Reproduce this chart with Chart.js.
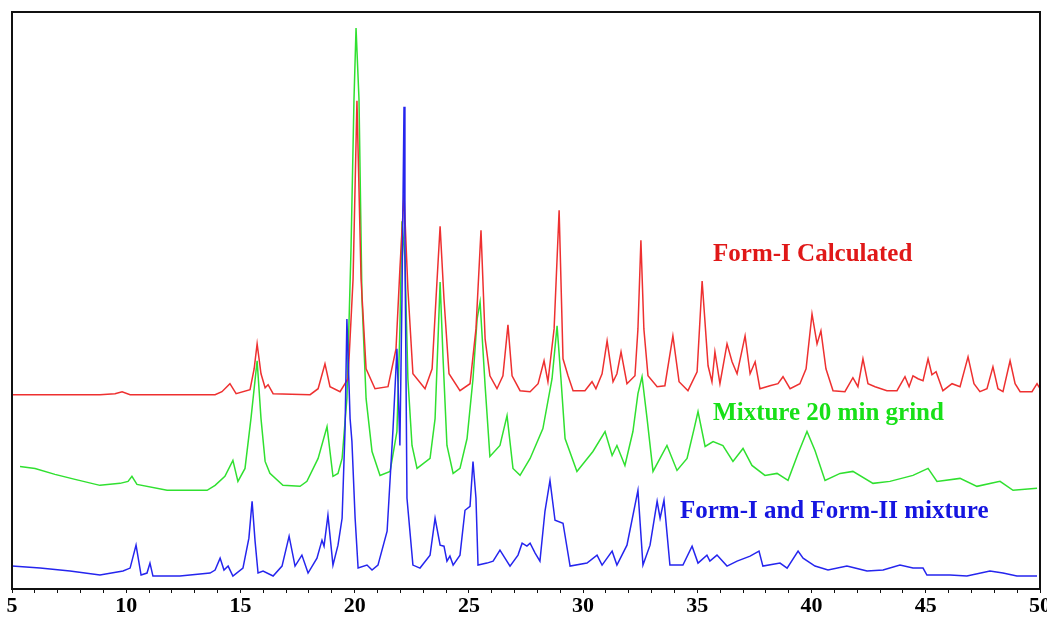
<!DOCTYPE html>
<html>
<head>
<meta charset="utf-8">
<script src="https://cdn.jsdelivr.net/npm/chart.js@4/dist/chart.umd.min.js"></script>
<style>
  html, body { margin: 0; padding: 0; background: #fff; }
  #wrap { width: 1047px; height: 620px; }
</style>
</head>
<body>
<div id="wrap"><canvas id="xrdChart" width="1047" height="620"></canvas></div>
<script>
// 2-theta positions and intensities (arbitrary units, offsets included)
const calcX = [5.00, 8.85, 9.51, 9.82, 10.17, 13.89, 14.19, 14.54, 14.81, 15.42, 15.60, 15.73, 15.90, 16.08, 16.21, 16.43, 18.05, 18.40, 18.70, 18.92, 19.36, 19.71, 19.93, 20.10, 20.28, 20.50, 20.89, 21.46, 21.81, 21.98, 22.16, 22.33, 22.55, 23.08, 23.39, 23.56, 23.74, 23.91, 24.13, 24.61, 25.05, 25.31, 25.53, 25.71, 25.92, 26.23, 26.49, 26.71, 26.89, 27.24, 27.68, 28.03, 28.29, 28.46, 28.73, 28.95, 29.12, 29.34, 29.56, 30.08, 30.39, 30.56, 30.83, 31.05, 31.31, 31.48, 31.66, 31.92, 32.27, 32.40, 32.53, 32.66, 32.84, 33.24, 33.58, 33.93, 34.20, 34.59, 34.99, 35.21, 35.47, 35.64, 35.77, 35.99, 36.30, 36.52, 36.74, 37.09, 37.31, 37.53, 37.74, 38.18, 38.53, 38.75, 39.06, 39.49, 39.76, 40.02, 40.24, 40.41, 40.63, 40.94, 41.46, 41.81, 42.03, 42.25, 42.47, 42.78, 43.30, 43.74, 44.09, 44.27, 44.44, 44.66, 44.88, 45.10, 45.27, 45.45, 45.75, 46.15, 46.50, 46.85, 47.11, 47.37, 47.68, 47.94, 48.16, 48.38, 48.69, 48.91, 49.13, 49.65, 49.87, 50.00];
const calcY = [195, 195, 196, 198, 195, 195, 198, 206, 196, 200, 221, 246, 216, 202, 205, 196, 195, 201, 226, 203, 198, 211, 311, 490, 311, 221, 201, 203, 241, 321, 396, 301, 216, 201, 221, 291, 364, 291, 216, 199, 206, 261, 360, 251, 214, 201, 214, 265, 214, 199, 198, 206, 229, 208, 261, 380, 231, 214, 199, 199, 208, 201, 216, 249, 208, 216, 238, 206, 214, 261, 350, 261, 214, 203, 204, 254, 208, 199, 218, 309, 224, 208, 238, 206, 246, 228, 216, 254, 216, 228, 201, 204, 206, 213, 201, 206, 221, 276, 246, 259, 221, 199, 198, 212, 203, 231, 206, 203, 199, 199, 213, 203, 214, 211, 209, 231, 215, 218, 199, 206, 203, 233, 206, 198, 201, 223, 201, 198, 229, 206, 198, 198, 206, 201];

const grindX = [5.35, 6.01, 6.88, 7.76, 8.85, 9.73, 10.08, 10.25, 10.47, 11.79, 13.54, 13.89, 14.32, 14.67, 14.89, 15.20, 15.46, 15.73, 15.90, 16.08, 16.29, 16.86, 17.61, 17.91, 18.40, 18.79, 19.05, 19.27, 19.45, 19.66, 19.84, 19.97, 20.06, 20.19, 20.32, 20.50, 20.76, 21.11, 21.55, 21.85, 21.98, 22.07, 22.20, 22.33, 22.51, 22.73, 23.30, 23.52, 23.65, 23.74, 23.87, 24.04, 24.31, 24.61, 24.92, 25.18, 25.36, 25.49, 25.71, 25.92, 26.36, 26.67, 26.93, 27.24, 27.68, 28.24, 28.64, 28.86, 29.03, 29.21, 29.73, 30.43, 30.96, 31.27, 31.48, 31.83, 32.18, 32.40, 32.58, 32.80, 33.06, 33.67, 34.11, 34.55, 34.86, 35.03, 35.34, 35.69, 36.12, 36.56, 37.00, 37.39, 37.96, 38.49, 38.97, 39.41, 39.80, 40.15, 40.59, 41.25, 41.81, 42.69, 43.43, 44.44, 45.10, 45.49, 46.50, 47.24, 48.25, 48.82, 49.87];
const grindY = [123, 121, 115, 110, 104, 106, 108, 113, 105, 99, 99, 104, 113, 129, 108, 121, 171, 229, 171, 128, 116, 104, 103, 108, 131, 163, 113, 116, 131, 191, 341, 491, 563, 491, 291, 191, 138, 114, 118, 158, 261, 369, 331, 211, 144, 121, 131, 171, 251, 308, 231, 144, 116, 121, 151, 211, 271, 288, 204, 133, 144, 174, 121, 114, 131, 161, 211, 264, 211, 151, 118, 138, 158, 134, 144, 124, 158, 196, 213, 171, 118, 144, 119, 131, 161, 178, 143, 148, 144, 128, 141, 124, 114, 116, 109, 136, 158, 139, 109, 116, 118, 106, 108, 114, 121, 108, 111, 103, 108, 99, 101];

const mixX = [5.00, 6.23, 7.54, 8.85, 9.86, 10.17, 10.43, 10.65, 10.91, 11.04, 11.17, 12.35, 13.67, 13.89, 14.11, 14.28, 14.46, 14.67, 15.11, 15.37, 15.51, 15.64, 15.77, 15.99, 16.43, 16.82, 17.13, 17.39, 17.69, 17.96, 18.35, 18.57, 18.66, 18.83, 19.05, 19.27, 19.45, 19.58, 19.66, 19.80, 19.88, 20.02, 20.15, 20.54, 20.76, 21.02, 21.42, 21.68, 21.85, 21.98, 22.07, 22.16, 22.20, 22.29, 22.55, 22.86, 23.30, 23.52, 23.74, 23.91, 24.04, 24.17, 24.31, 24.61, 24.83, 25.05, 25.18, 25.31, 25.40, 25.79, 26.06, 26.36, 26.80, 27.15, 27.33, 27.54, 27.68, 27.90, 28.11, 28.33, 28.55, 28.77, 29.12, 29.43, 30.17, 30.61, 30.83, 31.27, 31.48, 31.92, 32.40, 32.62, 32.93, 33.24, 33.37, 33.54, 33.80, 34.37, 34.77, 35.03, 35.42, 35.55, 35.86, 36.30, 36.74, 37.31, 37.70, 37.87, 38.62, 38.93, 39.41, 39.63, 40.15, 40.72, 41.55, 42.43, 43.13, 43.87, 44.44, 44.88, 45.05, 46.06, 46.80, 47.81, 48.38, 48.99, 49.87];
const mixY = [23, 21, 18, 14, 18, 21, 44, 14, 16, 26, 13, 13, 16, 19, 31, 19, 23, 13, 21, 51, 88, 48, 16, 18, 13, 23, 53, 23, 34, 16, 31, 49, 43, 74, 24, 44, 71, 161, 271, 171, 148, 71, 21, 24, 19, 24, 58, 161, 241, 144, 291, 484, 351, 91, 24, 21, 34, 71, 44, 43, 28, 33, 24, 34, 79, 83, 128, 91, 24, 26, 28, 39, 23, 34, 46, 43, 46, 36, 28, 78, 109, 69, 66, 23, 26, 34, 24, 38, 24, 44, 99, 24, 44, 88, 71, 89, 24, 24, 43, 26, 34, 28, 34, 23, 28, 33, 38, 23, 26, 21, 38, 31, 23, 19, 23, 18, 19, 24, 21, 21, 14, 14, 13, 18, 16, 13, 13];

const xTicks = [5, 10, 15, 20, 25, 30, 35, 40, 45, 50];

const seriesNames = ['Form-I and Form-II mixture', 'Form-I Calculated', 'Mixture 20 min grind'];
const lineColors = ['#2525ee', '#ee3030', '#30e030'];
const textColors = ['#1515e0', '#e01818', '#18e018'];
// where each name sits, in data units: [2theta, intensity]
const namePos = [[34.24, 78], [35.69, 336], [35.69, 176]];

function toPoints(xs, ys) {
  return xs.map((x, i) => ({ x: x, y: ys[i] }));
}

// frame round the plot area + the series names
const framePlugin = {
  id: 'frame',
  afterDraw(chart) {
    const { ctx, chartArea: { top, bottom, left, right }, scales } = chart;
    ctx.save();
    ctx.strokeStyle = '#111';
    ctx.lineWidth = 2;
    ctx.strokeRect(left, top, right - left, bottom - top);

    ctx.font = 'bold 25px "Liberation Serif", "DejaVu Serif", serif';
    ctx.textBaseline = 'middle';
    ctx.textAlign = 'left';
    seriesNames.forEach((name, i) => {
      ctx.fillStyle = textColors[i];
      ctx.fillText(name, scales.x.getPixelForValue(namePos[i][0]), scales.y.getPixelForValue(namePos[i][1]));
    });
    ctx.restore();
  }
};

const ctx = document.getElementById('xrdChart').getContext('2d');
new Chart(ctx, {
  type: 'line',
  data: {
    datasets: [
      { label: seriesNames[0], data: toPoints(mixX, mixY), borderColor: lineColors[0] },
      { label: seriesNames[1], data: toPoints(calcX, calcY), borderColor: lineColors[1] },
      { label: seriesNames[2], data: toPoints(grindX, grindY), borderColor: lineColors[2] },
    ],
  },
  options: {
    responsive: false,
    animation: false,
    datasets: {
      line: {
        borderWidth: 1.5,
        pointRadius: 0,
        tension: 0,
        fill: false,
      },
    },
    layout: {
      padding: { left: 12, top: 12, right: 7, bottom: 1 },
    },
    scales: {
      x: {
        type: 'linear',
        min: xTicks[0],
        max: xTicks[xTicks.length - 1],
        border: { display: true, color: '#111', width: 2 },
        grid: { display: true, drawOnChartArea: false, drawTicks: true, tickLength: 4, color: '#111', lineWidth: 1 },
        ticks: {
          stepSize: 1,
          autoSkip: false,
          maxRotation: 0,
          padding: 2,
          color: '#000',
          font: { family: '"Liberation Serif", "DejaVu Serif", serif', size: 22, weight: 'bold', lineHeight: 1 },
          callback: (v) => (xTicks.includes(v) ? String(v) : ''),
        },
        afterFit: (scale) => {
          // keep the plot edge where the frame is, labels may touch the canvas edge
          scale.paddingLeft = 0;
          scale.paddingRight = 0;
        },
      },
      y: {
        display: false,
        min: 0,
        max: 579,
      },
    },
    plugins: {
      legend: { display: false },
      tooltip: { enabled: false },
    },
  },
  plugins: [framePlugin],
});
</script>
</body>
</html>
